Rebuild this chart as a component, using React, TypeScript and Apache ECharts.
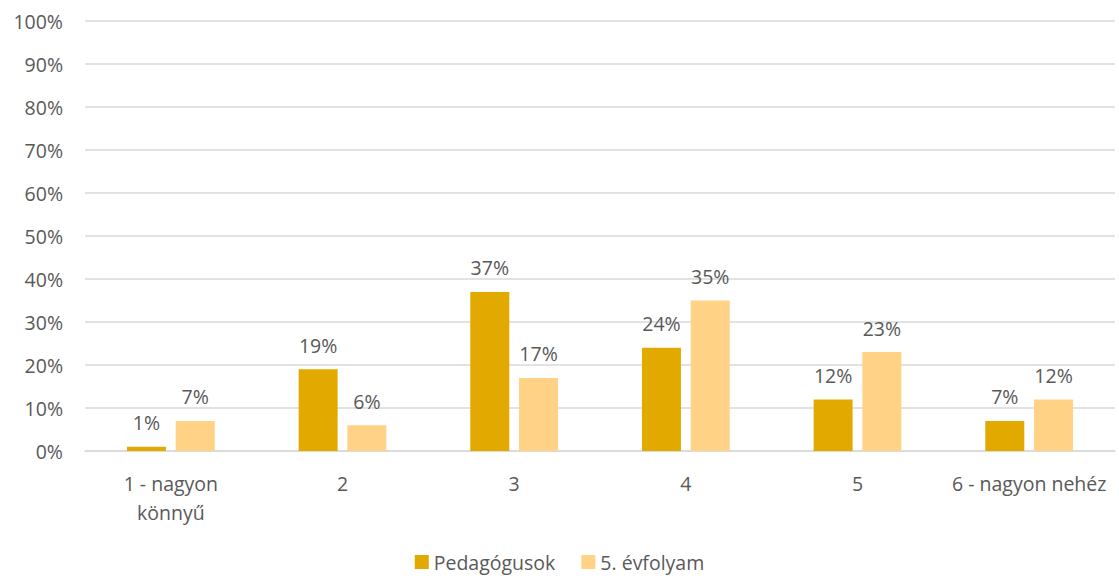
import React, { useEffect, useRef } from "react";
import * as echarts from "echarts";

const categories = ["1 - nagyon\nkönnyű", "2", "3", "4", "5", "6 - nagyon nehéz"];
const seriesNames = ["Pedagógusok", "5. évfolyam"];
const pedagogusok = [1, 19, 37, 24, 12, 7];
const evfolyam5 = [7, 6, 17, 35, 23, 12];
const colors = ["#E2AA00", "#FFD286"];

const FONT = "'Open Sans', 'Liberation Sans', sans-serif";
const TXT = "#595959";

export default function App() {
  const ref = useRef<HTMLDivElement>(null);
  useEffect(() => {
    const chart = echarts.init(ref.current!, null, { renderer: "svg" });
    const label = {
      show: true,
      position: "top",
      distance: 14,
      color: TXT,
      fontFamily: FONT,
      fontSize: 19.5,
      formatter: (p: any) => p.value + "%",
    };
    chart.setOption({
      animation: false,
      grid: { left: 85, right: 4, top: 21, bottom: 129, containLabel: false },
      legend: {
        bottom: 3,
        left: "center",
        itemWidth: 14,
        itemHeight: 14,
        itemGap: 26,
        icon: "rect",
        textStyle: { color: TXT, fontFamily: FONT, fontSize: 19.5 },
        data: seriesNames,
      },
      xAxis: {
        type: "category",
        data: categories,
        axisLine: { lineStyle: { color: "#D9D9D9", width: 1.5 } },
        axisTick: { show: false },
        axisLabel: { color: TXT, fontFamily: FONT, fontSize: 19.5, margin: 18, lineHeight: 29, interval: 0 },
      },
      yAxis: {
        type: "value",
        min: 0,
        max: 100,
        interval: 10,
        axisLabel: { color: TXT, fontFamily: FONT, fontSize: 19.5, formatter: "{value}%", margin: 22 },
        splitLine: { lineStyle: { color: "#D9D9D9", width: 1.5 } },
        axisLine: { show: false },
        axisTick: { show: false },
      },
      series: [
        { name: seriesNames[0], type: "bar", data: pedagogusok, barWidth: 39, barGap: "25%", itemStyle: { color: colors[0] }, label },
        { name: seriesNames[1], type: "bar", data: evfolyam5, barWidth: 39, barGap: "25%", itemStyle: { color: colors[1] }, label },
      ],
    });
    return () => chart.dispose();
  }, []);
  return <div ref={ref} style={{ width: 1119, height: 580, position: "absolute", left: 0, top: 0, background: "#fff" }} />;
}
